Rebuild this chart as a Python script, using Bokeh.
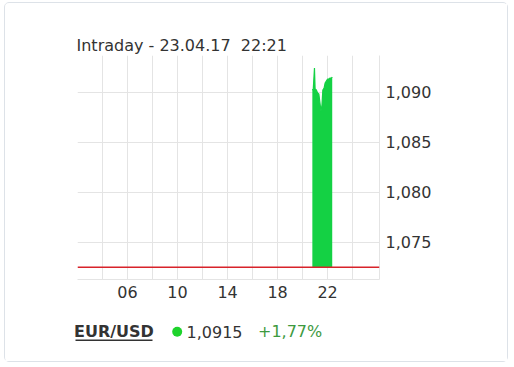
from bokeh.plotting import figure
from bokeh.layouts import column, row
from bokeh.models import FixedTicker, Span, Range1d
from bokeh.core.properties import value
from bokeh.embed import file_html
from bokeh.resources import INLINE

# ---- data ----
hours = [20.78, 20.85, 20.95, 21.00, 21.10, 21.20, 21.30, 21.40, 21.47, 21.55,
         21.62, 21.72, 21.80, 21.90, 22.00, 22.10, 22.20, 22.30, 22.37]
prices = [1.0903, 1.0902, 1.0924, 1.0903, 1.0902, 1.0899, 1.0898, 1.0888, 1.0881, 1.0887,
          1.0902, 1.0904, 1.0909, 1.0911, 1.0913, 1.0913, 1.0914, 1.0914, 1.0915]
prev_close = 1.07252
grid_hours = [2, 4, 6, 8, 10, 12, 14, 16, 18, 20, 22, 24]
hour_labels = {6: "06", 10: "10", 14: "14", 18: "18", 22: "22"}
price_ticks = [1.075, 1.080, 1.085, 1.090]
price_labels = ["1,075", "1,080", "1,085", "1,090"]
title_text = "Intraday - 23.04.17 \u00a022:21"
symbol = "EUR/USD"
last_price = "1,0915"
change = "+1,77%"

FONT = "DejaVu Sans"
TXT = "#333333"
GRID = "#e4e4e4"
GREEN = "#14d144"

W = 502
H1, H2 = 310, 48

p = figure(width=W, height=H1, x_range=Range1d(2, 26.15), y_range=Range1d(1.0713, 1.09365),
           output_backend="svg", toolbar_location=None, y_axis_location="right",
           min_border_left=72, min_border_right=128, min_border_top=52, min_border_bottom=H1 - 52 - 224)
p.outline_line_color = None
p.background_fill_color = "white"
p.border_fill_color = "white"

p.varea(x=hours, y1=[prev_close] * len(hours), y2=prices, fill_color=GREEN, fill_alpha=1)
p.line(x=hours, y=prices, line_color=GREEN, line_width=1.2)
p.add_layout(Span(location=prev_close, dimension="width", line_color="#d8232a", line_width=1.5))

# axes
xa = p.xaxis[0]
xa.ticker = FixedTicker(ticks=grid_hours)
xa.major_label_overrides = {h: hour_labels.get(h, "") for h in grid_hours}
xa.major_tick_in = 0
xa.major_tick_out = 0
xa.minor_tick_in = 0
xa.minor_tick_out = 0
xa.axis_line_color = GRID
xa.major_label_standoff = 6
xa.major_label_text_font = FONT
xa.major_label_text_font_size = "16px"
xa.major_label_text_color = TXT

ya = p.yaxis[0]
ya.ticker = FixedTicker(ticks=price_ticks)
ya.major_label_overrides = dict(zip(price_ticks, price_labels))
ya.major_tick_in = 0
ya.major_tick_out = 0
ya.minor_tick_in = 0
ya.minor_tick_out = 0
ya.axis_line_color = GRID
ya.major_label_standoff = 6
ya.major_label_text_font = FONT
ya.major_label_text_font_size = "16px"
ya.major_label_text_color = TXT

p.xgrid.grid_line_color = GRID
p.ygrid.grid_line_color = GRID

# title
p.title.text = title_text
p.title.align = "left"
p.title.offset = -1
p.title.standoff = 1
p.title.text_font = FONT
p.title.text_font_style = "normal"
p.title.text_font_size = "16px"
p.title.text_color = TXT

# footer: a pixel-unit figure below the chart
f = figure(width=W, height=H2, x_range=Range1d(0, W), y_range=Range1d(H2, 0),
           output_backend="svg", toolbar_location=None, x_axis_type=None, y_axis_type=None,
           min_border=0)
f.outline_line_color = None
f.grid.visible = False
f.background_fill_color = "white"
f.border_fill_color = "white"

f.text(x=[68.5], y=[18], text=[symbol], text_font=value(FONT), text_font_style="bold",
       text_font_size="16px", text_color=TXT, text_baseline="alphabetic")
f.quad(left=[70], right=[147], top=[26], bottom=[27.6], fill_color=TXT, line_color=None)
f.scatter(x=[171.7], y=[18.3], size=10, fill_color="#1ed32c", line_color=None)
f.text(x=[181], y=[18], text=[last_price], text_font=value(FONT),
       text_font_size="16px", text_color=TXT, text_baseline="alphabetic")
f.text(x=[252.5], y=[18], text=[change], text_font=value(FONT),
       text_font_size="16px", text_color="#3d9a3f", text_baseline="alphabetic")

layout = column(p, row(f), spacing=0,
                styles={"border": "1px solid #dde2e8", "border-radius": "5px",
                        "margin-left": "4px", "margin-top": "2px"})

open("out.html", "w").write(file_html(layout, INLINE))
